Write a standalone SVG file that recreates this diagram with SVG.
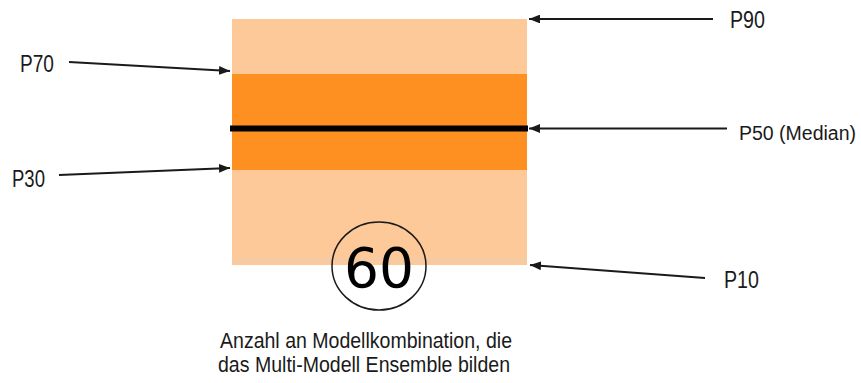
<svg xmlns="http://www.w3.org/2000/svg" width="861" height="383" viewBox="0 0 861 383">
  <style>
    .lbl { font-family: "Liberation Sans", Arial, sans-serif; font-size: 23px; fill: #1a1a1a; }
    .cap { font-family: "Liberation Sans", Arial, sans-serif; font-size: 22px; fill: #1a1a1a; }
    .arrow { stroke: #1a1a1a; stroke-width: 2; fill: none; marker-end: url(#head); }
  </style>
  <defs>
    <marker id="head" viewBox="0 0 10 8" refX="10" refY="4" markerWidth="5.5" markerHeight="4.4" orient="auto" markerUnits="strokeWidth">
      <path d="M0,0 L10,4 L0,8 z" fill="#1a1a1a"/>
    </marker>
  </defs>
  <rect width="861" height="383" fill="#ffffff"/>

  <!-- percentile band -->
  <g id="band">
    <rect x="232" y="19" width="295" height="246" fill="#fdc998"/>
    <rect x="232" y="74" width="295" height="96" fill="#fe8f21"/>
    <line x1="232" y1="260" x2="527" y2="260" stroke="#d9d0c8" stroke-width="1.2"/>
    <line x1="230" y1="128.5" x2="528" y2="128.5" stroke="#000000" stroke-width="6"/>
  </g>

  <!-- ensemble count -->
  <g id="count">
    <ellipse cx="379" cy="266" rx="47" ry="44" fill="none" stroke="#1a1a1a" stroke-width="1.5"/>
    <text x="379" y="287" text-anchor="middle" font-family="DejaVu Sans, sans-serif" font-size="55" fill="#000000">60</text>
  </g>

  <!-- labels -->
  <g id="p90"><text class="lbl" x="730" y="28" textLength="35" lengthAdjust="spacingAndGlyphs">P90</text></g>
  <g id="p70"><text class="lbl" x="20" y="72" textLength="34" lengthAdjust="spacingAndGlyphs">P70</text></g>
  <g id="p50"><text class="lbl" x="739" y="140" style="font-size:19.5px">P50 (Median)</text></g>
  <g id="p30"><text class="lbl" x="12" y="187" textLength="33" lengthAdjust="spacingAndGlyphs">P30</text></g>
  <g id="p10"><text class="lbl" x="724" y="288" textLength="35" lengthAdjust="spacingAndGlyphs">P10</text></g>
  <g id="caption">
    <text class="cap" x="220" y="348" textLength="292" lengthAdjust="spacingAndGlyphs">Anzahl an Modellkombination, die</text>
    <text class="cap" x="218" y="372" textLength="292" lengthAdjust="spacingAndGlyphs">das Multi-Modell Ensemble bilden</text>
  </g>

  <!-- connectors -->
  <g id="connectors">
    <line class="arrow" x1="713" y1="19" x2="529" y2="19"/>
    <line class="arrow" x1="727" y1="128.5" x2="529" y2="128.5"/>
    <line class="arrow" x1="705" y1="278" x2="530" y2="265"/>
    <line class="arrow" x1="69" y1="62" x2="230" y2="71"/>
    <line class="arrow" x1="59" y1="175" x2="230" y2="168"/>
  </g>
</svg>
